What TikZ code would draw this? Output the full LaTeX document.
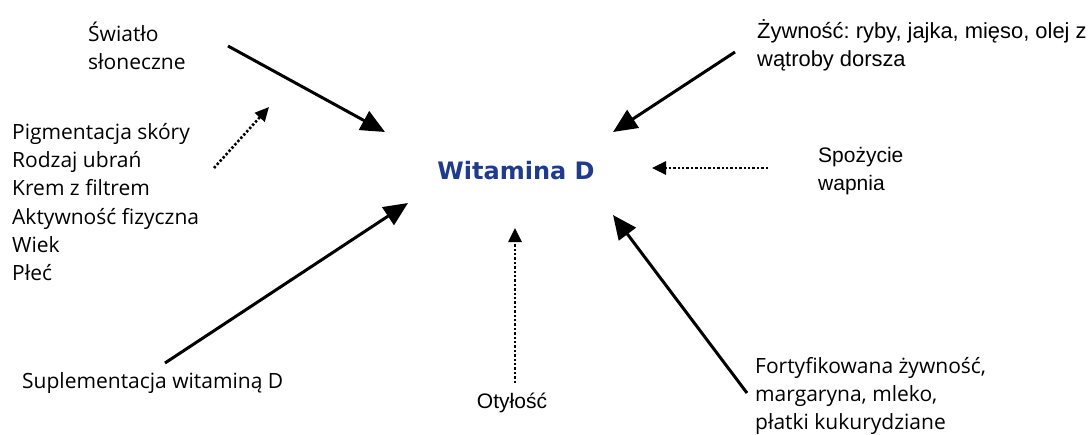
\documentclass[tikz,border=0pt]{standalone}
\usepackage{fontspec}
\usetikzlibrary{arrows.meta}
\newfontfamily\widefont{Open Sans}
\newfontfamily\narrowfont{Liberation Sans}
\newfontfamily\titlefont{DejaVu Sans}
\definecolor{vitblue}{HTML}{1F3B8C}
\frenchspacing
\tikzset{
  widetxt/.style={inner sep=0pt, anchor=west, align=left, font=\widefont\fontsize{21}{28.2}\selectfont},
  narrowtxt/.style={inner sep=0pt, anchor=west, align=left, font=\narrowfont\fontsize{21}{28.2}\selectfont},
  solidarr/.style={line width=3pt, -{Triangle[length=24pt,width=21pt]}},
  dotarr/.style={line width=2.6pt, dash pattern=on 2.4pt off 2pt, -{Triangle[length=14pt,width=13pt]}},
}
\begin{document}
\begin{tikzpicture}[x=1pt,y=-1pt]
\fill[white] (0,0) rectangle (1089,434);
\useasboundingbox (0,0) rectangle (1089,434);

\node[inner sep=0pt, text=vitblue, font=\titlefont\bfseries\fontsize{24}{28}\selectfont] (vit) at (516,171) {Witamina D};

\node[widetxt] (sun) at (88,46) {Światło\\słoneczne};
\node[widetxt] (factors) at (12,202) {Pigmentacja skóry\\Rodzaj ubrań\\Krem z filtrem\\Aktywność fizyczna\\Wiek\\Płeć};
\node[widetxt] (supl) at (22,383) {Suplementacja witaminą D};
\node[narrowtxt, anchor=center] (obes) at (512,403) {Otyłość};
\node[narrowtxt, font=\narrowfont\fontsize{21.9}{28.2}\selectfont] (food) at (757,45) {Żywność: ryby, jajka, mięso, olej z\\wątroby dorsza};
\node[narrowtxt] (calc) at (818,171) {Spożycie\\wapnia};
\node[widetxt] (fort) at (755,396) {Fortyfikowana żywność,\\margaryna, mleko,\\płatki kukurydziane};

\coordinate (sunS) at (228,46);   \coordinate (sunT) at (385,132);
\coordinate (facS) at (214,168);  \coordinate (facT) at (269,107);
\coordinate (supS) at (165,363);  \coordinate (supT) at (408,203);
\coordinate (obS) at (515,383);   \coordinate (obT) at (515,228);
\coordinate (foodS) at (735,52);  \coordinate (foodT) at (613,132);
\coordinate (calS) at (768,168);  \coordinate (calT) at (652,168);
\coordinate (fortS) at (747,393); \coordinate (fortT) at (613,215);

\draw[solidarr] (sunS) -- (sunT);
\draw[dotarr] (facS) -- (facT);
\draw[solidarr] (supS) -- (supT);
\draw[dotarr] (obS) -- (obT);
\draw[solidarr] (foodS) -- (foodT);
\draw[dotarr] (calS) -- (calT);
\draw[solidarr] (fortS) -- (fortT);
\end{tikzpicture}
\end{document}
